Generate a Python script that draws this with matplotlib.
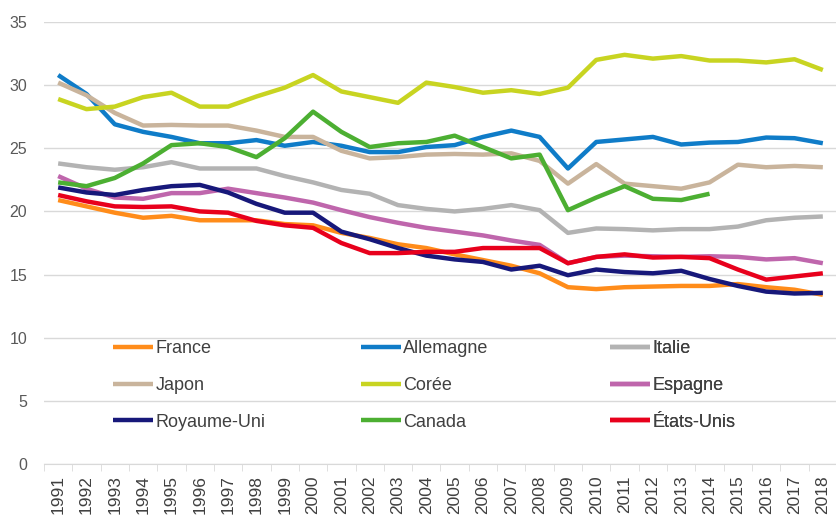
import numpy as np
import matplotlib
matplotlib.use('Agg')
import matplotlib.pyplot as plt

plt.rcParams['font.family'] = ['Liberation Sans', 'DejaVu Sans']

# === DATA ===
years = list(range(1991, 2019))

france = [20.9, 20.4, 19.9, 19.5, 19.65, 19.3, 19.3, 19.3, 19.0, 18.9,
          18.3, 17.9, 17.4, 17.1, 16.6, 16.15, 15.7, 15.1, 14.0, 13.85,
          14.0, 14.05, 14.1, 14.1, 14.25, 14.0, 13.8, 13.4]
allemagne = [30.8, 29.3, 26.9, 26.3, 25.9, 25.4, 25.4, 25.65, 25.2, 25.5,
             25.2, 24.7, 24.7, 25.1, 25.25, 25.9, 26.4, 25.9, 23.4, 25.5,
             25.7, 25.9, 25.3, 25.45, 25.5, 25.85, 25.8, 25.4]
italie = [23.8, 23.5, 23.3, 23.5, 23.9, 23.4, 23.4, 23.4, 22.8, 22.3,
          21.7, 21.4, 20.5, 20.2, 20.0, 20.2, 20.5, 20.1, 18.3, 18.65,
          18.6, 18.5, 18.6, 18.6, 18.8, 19.3, 19.5, 19.6]
japon = [30.2, 29.2, 27.8, 26.8, 26.85, 26.8, 26.8, 26.4, 25.9, 25.9,
         24.8, 24.2, 24.3, 24.5, 24.55, 24.5, 24.6, 24.0, 22.2, 23.75,
         22.2, 22.0, 21.8, 22.3, 23.7, 23.5, 23.6, 23.5]
coree = [28.9, 28.1, 28.3, 29.05, 29.4, 28.3, 28.3, 29.1, 29.8, 30.8,
         29.5, 29.05, 28.6, 30.2, 29.85, 29.4, 29.6, 29.3, 29.8, 32.0,
         32.4, 32.1, 32.3, 31.95, 31.95, 31.8, 32.05, 31.2]
espagne = [22.8, 21.8, 21.1, 21.0, 21.45, 21.45, 21.8, 21.45, 21.1, 20.7,
           20.1, 19.55, 19.1, 18.7, 18.4, 18.1, 17.7, 17.35, 15.9, 16.4,
           16.5, 16.45, 16.4, 16.45, 16.4, 16.2, 16.3, 15.9]
royaume_uni = [21.9, 21.5, 21.3, 21.7, 22.0, 22.1, 21.5, 20.6, 19.9, 19.9,
               18.4, 17.8, 17.1, 16.5, 16.2, 16.0, 15.4, 15.7, 14.95, 15.4,
               15.2, 15.1, 15.3, 14.65, 14.1, 13.65, 13.5, 13.55]
canada = [22.3, 22.0, 22.65, 23.8, 25.25, 25.4, 25.1, 24.3, 25.8, 27.9,
          26.3, 25.1, 25.4, 25.5, 26.0, 25.1, 24.2, 24.5, 20.1, 21.1,
          22.0, 21.0, 20.9, 21.4] + [np.nan] * 4
etats_unis = [21.3, 20.8, 20.4, 20.35, 20.4, 20.0, 19.9, 19.25, 18.9, 18.7,
              17.5, 16.7, 16.7, 16.8, 16.8, 17.1, 17.1, 17.1, 15.9, 16.4,
              16.6, 16.35, 16.4, 16.3, 15.4, 14.6, 14.85, 15.1]

series = [
    ('France', france, '#FF8C1A'),
    ('Allemagne', allemagne, '#0F7CC8'),
    ('Italie', italie, '#B3B3B3'),
    ('Japon', japon, '#C9B49C'),
    ('Corée', coree, '#C8D421'),
    ('Espagne', espagne, '#BF66AC'),
    ('Royaume-Uni', royaume_uni, '#17187A'),
    ('Canada', canada, '#4CAF32'),
    ('États-Unis', etats_unis, '#E8001C'),
]

# === PLOT ===
fig = plt.figure(figsize=(8.37, 5.15), dpi=100)
ax = fig.add_axes([44/837, 51/515, 793/837, 442/515])

x = np.arange(len(years))
lines = {}
for name, vals, col in series:
    ln, = ax.plot(x, vals, color=col, linewidth=3.2, solid_capstyle='butt',
                  label=name)
    lines[name] = ln

ax.set_xlim(-0.5, len(years) - 0.5)
ax.set_ylim(0, 35)
ax.set_yticks(range(0, 36, 5))
ax.set_xticks(x)
ax.set_xticklabels([str(y) for y in years], rotation=90)
ax.set_xticks(np.arange(-0.5, len(years), 1), minor=True)
ax.tick_params(axis='x', which='major', length=0, pad=8, labelsize=12.5,
               labelcolor='#404040')
ax.tick_params(axis='x', which='minor', length=5, color='#D9D9D9')
ax.tick_params(axis='y', length=0, pad=12, labelsize=11.5, labelcolor='#595959')

ax.grid(axis='y', color='#D9D9D9', linewidth=1)
ax.set_axisbelow(True)
for s in ['top', 'right', 'left']:
    ax.spines[s].set_visible(False)
ax.spines['bottom'].set_color('#D9D9D9')

# legend: three columns, evenly spaced like the original
columns = [['France', 'Japon', 'Royaume-Uni'],
           ['Allemagne', 'Corée', 'Canada'],
           ['Italie', 'Espagne', 'États-Unis']]
col_x = [113, 361, 610]
for names, cx in zip(columns, col_x):
    leg = ax.legend([lines[n] for n in names], names, frameon=False,
                    loc='upper left', bbox_to_anchor=(cx/837, 1 - 340/515),
                    bbox_transform=fig.transFigure, borderaxespad=0,
                    borderpad=0, fontsize=13, handlelength=2.2,
                    handletextpad=0.15, labelspacing=1.1, labelcolor='#404040')
    ax.add_artist(leg)

plt.savefig('out.png', dpi=100)
